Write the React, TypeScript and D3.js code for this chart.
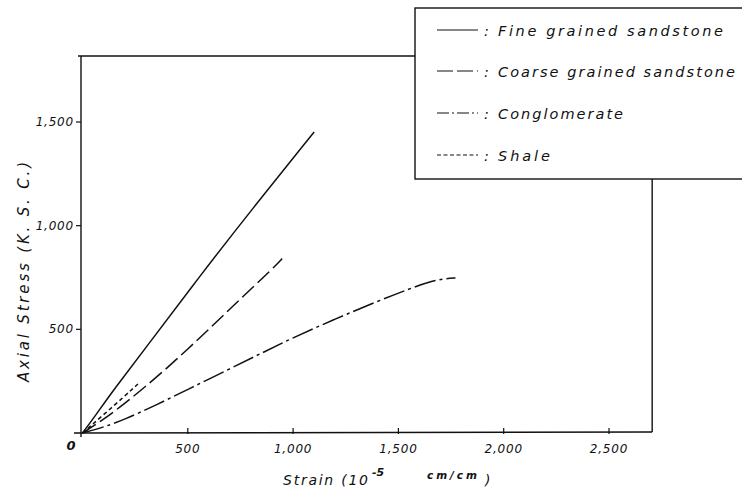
import React from "react";
import * as d3 from "d3";

type Pt = [number, number];

// Strain (10^-5 cm/cm), Axial stress (K.S.C.)
const fineGrained: Pt[] = [
  [0, 0], [60, 82], [150, 212], [300, 410], [557, 757], [800, 1073], [1100, 1452],
];
const coarseGrained: Pt[] = [
  [0, 0], [100, 65], [200, 142], [300, 225], [400, 312], [500, 405], [600, 500], [700, 598], [800, 695], [900, 790], [948, 841],
];
const conglomerate: Pt[] = [
  [0, 0], [100, 28], [200, 65], [350, 135], [500, 210], [700, 310], [850, 385], [1000, 460],
  [1200, 550], [1400, 635], [1550, 695], [1650, 730], [1720, 745], [1771, 748],
];
const shale: Pt[] = [[0, 0], [100, 88], [200, 178], [265, 238]];

const xTicks = [500, 1000, 1500, 2000, 2500];
const yTicks = [500, 1000, 1500];
const xTickLabels = ["500", "1,000", "1,500", "2,000", "2,500"];
const yTickLabels = ["500", "1,000", "1,500"];

const legendLabels = [
  "Fine grained sandstone",
  "Coarse grained sandstone",
  "Conglomerate",
  "Shale",
];
const legendTextWidths = [225, 237, 125, 52];

const seriesList = [fineGrained, coarseGrained, conglomerate, shale];
const dashes = ["", "16,5", "22,4,3,4", "4,3"];

const FONT = "'DejaVu Sans', sans-serif";

export default function App() {
  const W = 742;
  const H = 492;
  const x = d3.scaleLinear().domain([0, 2500]).range([82.5, 609]);
  const y = d3.scaleLinear().domain([0, 1500]).range([433, 122]);
  const xMax = 2705;
  const yMax = 1818;

  const line = d3
    .line<Pt>()
    .x((d) => x(d[0]))
    .y((d) => y(d[1]))
    .curve(d3.curveBasis);

  const left = x(0) - 1.5;
  const bottom = y(0);
  const top = y(yMax);
  const right = x(xMax);
  const legX = 415;
  const legTop = 8;
  const legBottom = 179;

  const legendRows = [36, 77, 119, 161];

  return (
    <svg width={W} height={H} style={{ position: "absolute", left: 0, top: 0, background: "#fff" }}>
      <rect width={W} height={H} fill="#fff" />
      {/* frame */}
      <g stroke="#111" strokeWidth={1.4} fill="none">
        <line x1={left} y1={top} x2={left} y2={bottom + 4} />
        <line x1={left - 3} y1={top} x2={legX} y2={top} />
        <line x1={left - 7} y1={bottom} x2={right} y2={bottom - 1} />
        <line x1={right} y1={legBottom} x2={right} y2={bottom - 1} />
        <rect x={legX} y={legTop} width={W - legX + 5} height={legBottom - legTop} />
      </g>
      {/* ticks */}
      <g stroke="#111" strokeWidth={1.2}>
        {xTicks.map((t) => (
          <line key={t} x1={x(t)} x2={x(t)} y1={bottom + 1} y2={bottom - 5} />
        ))}
        {yTicks.map((t) => (
          <line key={t} x1={left - 5} x2={left} y1={y(t)} y2={y(t)} />
        ))}
      </g>
      <g fontFamily={FONT} fontStyle="italic" fontSize={12} fill="#111">
        {xTicks.map((t, i) => (
          <text key={t} x={x(t)} y={453} textAnchor="middle" letterSpacing={0.8}>
            {xTickLabels[i]}
          </text>
        ))}
        {yTicks.map((t, i) => (
          <text key={t} x={left - 7} y={y(t) + 4} textAnchor="end" letterSpacing={0.8}>
            {yTickLabels[i]}
          </text>
        ))}
        <text x={71} y={450} textAnchor="middle" fontSize={13} fontWeight="bold">0</text>
      </g>
      {/* axis titles */}
      <g fontFamily={FONT} fontStyle="italic" fill="#111">
        <text
          transform="translate(29,272) rotate(-90)"
          textAnchor="middle"
          fontSize={15}
          textLength={220}
          lengthAdjust="spacing"
        >
          Axial Stress (K. S. C.)
        </text>
        <text x={283} y={485} fontSize={14} textLength={85} lengthAdjust="spacing">
          Strain (10
        </text>
        <text x={372} y={476} fontSize={11} fontWeight="bold">-5</text>
        <text x={427} y={479} fontSize={10.5} fontWeight="bold" textLength={50} lengthAdjust="spacing">cm/cm</text>
        <text x={485} y={485} fontSize={14}>)</text>
      </g>
      {/* series */}
      <g fill="none" stroke="#111" strokeWidth={1.5}>
        {seriesList.map((s, i) => (
          <path key={i} d={line(s) || ""} strokeDasharray={dashes[i] || undefined} />
        ))}
      </g>
      {/* legend */}
      <g fontFamily={FONT} fontStyle="italic" fontSize={14.5} fill="#111">
        {legendLabels.map((lab, i) => (
          <g key={lab}>
            <line
              x1={437}
              x2={478}
              y1={legendRows[i] - 6}
              y2={legendRows[i] - 6}
              stroke="#111"
              strokeWidth={1.2}
              strokeDasharray={i === 0 ? undefined : i === 1 ? "16,4" : i === 2 ? "12,3,2,3" : "4,2.5"}
            />
            <text x={484} y={legendRows[i]}>:</text>
            <text x={498} y={legendRows[i]} textLength={legendTextWidths[i]} lengthAdjust="spacing">
              {lab}
            </text>
          </g>
        ))}
      </g>
    </svg>
  );
}
